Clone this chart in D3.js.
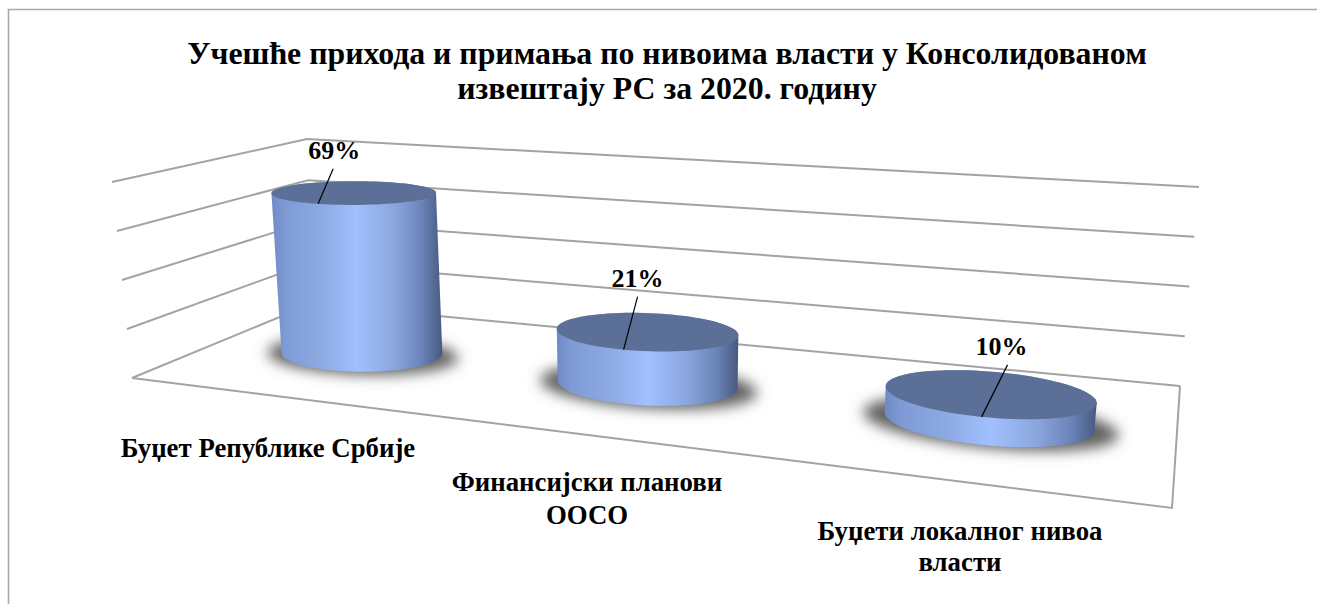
<!DOCTYPE html>
<html><head><meta charset="utf-8">
<script src="https://cdn.jsdelivr.net/npm/d3@7"></script>
<style>html,body{margin:0;padding:0;background:#fff}svg{display:block}text{font-family:"Liberation Serif",serif;font-weight:bold;fill:#000}</style>
</head><body><div id="c"></div>
<script>
const titleLines = ["Учешће прихода и примања по нивоима власти у Консолидованом","извештају РС за 2020. годину"];
const categories = ["Буџет Републике Србије","Финансијски планови ООСО","Буџети локалног нивоа власти"];
const categoryLines = [["Буџет Републике Србије"],["Финансијски планови","ООСО"],["Буџети локалног нивоа","власти"]];
const shares = [69,21,10];
const valueTicks = [0,20,40,60,80];

const W=1317,H=604;
const svg=d3.select("#c").append("svg").attr("width",W).attr("height",H);
const defs=svg.append("defs");
defs.append("filter").attr("id","blur").attr("x","-30%").attr("y","-60%").attr("width","160%").attr("height","220%")
  .append("feGaussianBlur").attr("stdDeviation",7);
const grad=defs.append("linearGradient").attr("id","side").attr("x1",0).attr("x2",1).attr("y1",0).attr("y2",0);
[[0,"#6f8ac3"],[.08,"#7f9bd6"],[.3,"#8eaae3"],[.5,"#a1c0ff"],[.72,"#8aa6dd"],[.88,"#6a84b8"],[1,"#47597f"]]
  .forEach(s=>grad.append("stop").attr("offset",s[0]).attr("stop-color",s[1]));

// perspective frame of the 3-D plot: floor (level 0) and top (level 1) corners
const floorQ=[[132,378],[1172,508],[1180,386],[311,304]];
const topQ=[[112,182],[1196,262],[1199,187],[307,139]];
const level=d3.scaleLinear().domain([0,80]).range([0,1]);
const catScale=d3.scalePoint().domain(categories).range([0.176,0.84]);
const depth=0.495, radU=0.0925, radD=0.21;

function homography(q){
  const [[x0,y0],[x1,y1],[x2,y2],[x3,y3]]=q;
  const dx1=x1-x2,dx2=x3-x2,sx=x0-x1+x2-x3,dy1=y1-y2,dy2=y3-y2,sy=y0-y1+y2-y3;
  const den=dx1*dy2-dx2*dy1,g=(sx*dy2-dx2*sy)/den,h=(dx1*sy-sx*dy1)/den;
  const a=x1-x0+g*x1,b=x3-x0+h*x3,d=y1-y0+g*y1,e=y3-y0+h*y3;
  return (u,v)=>{const w=g*u+h*v+1;return [(a*u+b*v+x0)/w,(d*u+e*v+y0)/w];};
}
function project(u,v,val){
  const t=level(val);
  const q=floorQ.map((p,i)=>[p[0]+(topQ[i][0]-p[0])*t,p[1]+(topQ[i][1]-p[1])*t]);
  return homography(q)(u,v);
}
const line=d3.line();
const gridColor="#a3a3a3";

// chart frame
svg.append("path").attr("d","M8.5,604V9.5H1317").attr("fill","none").attr("stroke","#a9a9a9").attr("stroke-width",1.6);

// walls and floor
const gWall=svg.append("g").attr("fill","none").attr("stroke",gridColor).attr("stroke-width",2);
valueTicks.forEach(t=>{
  gWall.append("path").attr("d",line([project(0,0,t),project(0,1,t),project(1,1,t)]));
});
gWall.append("path").attr("d",line([project(0,0,0),project(1,0,0),project(1,1,0)]));

// cylinders
const ring=(c,val,ku=1,kd=1)=>d3.range(0,360,4).map(a=>{
  const r=a*Math.PI/180;
  return project(c+radU*ku*Math.cos(r),depth+radD*kd*Math.sin(r),val);
});
const closed=pts=>line(pts)+"Z";
const gBars=svg.append("g");
categories.forEach((cat,i)=>{
  const c=catScale(cat);
  gBars.append("path").attr("d",closed(ring(c,0,1.22,1.02))).attr("fill","#606060").attr("filter","url(#blur)").attr("transform","translate(0,2)");
});
categories.forEach((cat,i)=>{
  const c=catScale(cat),val=shares[i];
  const hull=d3.polygonHull(ring(c,0).concat(ring(c,val)));
  gBars.append("path").attr("d",closed(hull)).attr("fill","url(#side)");
  gBars.append("path").attr("d",closed(ring(c,val))).attr("fill","#5c6f97");
});

// data labels with leader lines, placed relative to each cylinder's top
const labelAngle=88, labelRise=[[15,-35],[14,-53],[26,-52]], labelShift=[1,0,-6];
const gLab=svg.append("g");
categories.forEach((cat,i)=>{
  const c=catScale(cat),val=shares[i],r=labelAngle*Math.PI/180;
  const end=project(c+radU*Math.cos(r),depth-radD*Math.sin(r),val);
  const start=[end[0]+labelRise[i][0],end[1]+labelRise[i][1]];
  gLab.append("line").attr("x1",start[0]).attr("y1",start[1]).attr("x2",end[0]).attr("y2",end[1]).attr("stroke","#000").attr("stroke-width",1.2);
  gLab.append("text").attr("x",start[0]+labelShift[i]).attr("y",start[1]-10).attr("text-anchor","middle").attr("font-size",26).text(val+"%");
});

// title
titleLines.forEach((t,i)=>svg.append("text").attr("x",667).attr("y",64+i*35).attr("text-anchor","middle").attr("font-size",31.8).text(t));

// category labels
const labelX=[268,587,960], labelY=[457,491,540], labelGap=[0,33,31];
categoryLines.forEach((ls,i)=>ls.forEach((t,j)=>svg.append("text").attr("x",labelX[i]).attr("y",labelY[i]+j*labelGap[i]).attr("text-anchor","middle").attr("font-size",26.8).text(t)));
</script></body></html>
